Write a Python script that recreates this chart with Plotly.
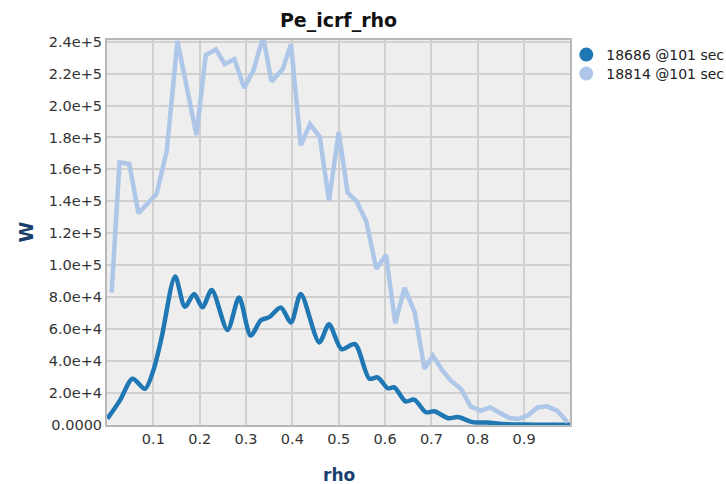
import plotly.graph_objects as go

# Series 18814 @101 sec (light)
rho_18814 = [0.010, 0.027, 0.048, 0.068, 0.107, 0.129, 0.152, 0.193, 0.213, 0.235,
             0.254, 0.275, 0.296, 0.316, 0.337, 0.355, 0.379, 0.397, 0.418, 0.438,
             0.459, 0.479, 0.500, 0.519, 0.539, 0.560, 0.581, 0.602, 0.622, 0.642,
             0.664, 0.685, 0.703, 0.724, 0.742, 0.764, 0.785, 0.807, 0.827, 0.847,
             0.868, 0.888, 0.908, 0.929, 0.949, 0.971, 0.994]
pe_18814 = [82.9e3, 164.4e3, 163.4e3, 132.5e3, 144.6e3, 171.7e3, 240.4e3, 181.5e3, 231.5e3, 235.2e3,
            226.0e3, 229.0e3, 211.0e3, 222.0e3, 243.0e3, 215.0e3, 222.7e3, 238.4e3, 175.0e3, 188.4e3,
            180.5e3, 140.4e3, 183.6e3, 145.5e3, 139.8e3, 127.0e3, 97.8e3, 106.5e3, 63.8e3, 85.8e3,
            70.5e3, 35.2e3, 43.4e3, 34.0e3, 27.7e3, 22.5e3, 11.5e3, 9.0e3, 11.0e3, 7.9e3,
            4.4e3, 3.8e3, 5.9e3, 11.0e3, 11.7e3, 9.0e3, 1.7e3]

# Series 18686 @101 sec (dark)
rho_18686 = [0.001, 0.028, 0.055, 0.082, 0.100, 0.118, 0.147, 0.168, 0.188, 0.206,
             0.226, 0.260, 0.285, 0.310, 0.332, 0.350, 0.375, 0.397, 0.418, 0.458,
             0.479, 0.506, 0.535, 0.566, 0.584, 0.606, 0.620, 0.644, 0.663, 0.688,
             0.706, 0.737, 0.757, 0.789, 0.820, 0.855, 0.900, 0.950, 0.999]
pe_18686 = [4.0e3, 15.4e3, 29.0e3, 22.7e3, 34.2e3, 55.0e3, 93.0e3, 74.0e3, 82.0e3, 73.7e3,
            84.5e3, 59.5e3, 79.8e3, 56.0e3, 65.5e3, 67.5e3, 73.6e3, 64.2e3, 82.0e3, 51.7e3,
            63.1e3, 47.5e3, 50.6e3, 29.0e3, 29.8e3, 23.0e3, 23.6e3, 14.8e3, 15.9e3, 8.0e3,
            8.6e3, 4.2e3, 5.0e3, 1.8e3, 1.5e3, 0.6e3, 0.3e3, 0.2e3, 0.2e3]

series_names = ["18686 @101 sec", "18814 @101 sec"]
series_colors = ["#1f77b4", "#aec7e8"]

y_tick_vals = [0, 2e4, 4e4, 6e4, 8e4, 1e5, 1.2e5, 1.4e5, 1.6e5, 1.8e5, 2.0e5, 2.2e5, 2.4e5]
y_tick_text = ["0.0000", "2.0e+4", "4.0e+4", "6.0e+4", "8.0e+4", "1.0e+5", "1.2e+5",
               "1.4e+5", "1.6e+5", "1.8e+5", "2.0e+5", "2.2e+5", "2.4e+5"]
x_tick_vals = [0.1, 0.2, 0.3, 0.4, 0.5, 0.6, 0.7, 0.8, 0.9]
x_tick_text = ["0.1", "0.2", "0.3", "0.4", "0.5", "0.6", "0.7", "0.8", "0.9"]

fig = go.Figure()
fig.add_trace(go.Scatter(x=rho_18686, y=pe_18686, mode="lines", showlegend=False,
                         line=dict(color=series_colors[0], width=4.5, shape="spline", smoothing=0.8)))
fig.add_trace(go.Scatter(x=rho_18814, y=pe_18814, mode="lines", showlegend=False,
                         line=dict(color=series_colors[1], width=4.5)))
legend_ids = ["legend", "legend2"]
for name, col, lg in zip(series_names, series_colors, legend_ids):
    fig.add_trace(go.Scatter(x=[None], y=[None], mode="markers", name=name, legend=lg,
                             marker=dict(color=col, size=14, symbol="circle")))

axis_common = dict(showgrid=True, gridcolor="#d0d0d0", gridwidth=1.5, zeroline=False,
                   showline=True, linecolor="#b8b8b8", linewidth=2, mirror=True,
                   ticks="", tickfont=dict(family="DejaVu Sans", size=14.5, color="#333333"))

legend_common = dict(x=0.992, xanchor="left", yanchor="middle", bgcolor="rgba(0,0,0,0)",
                     font=dict(family="DejaVu Sans", size=14, color="#222222"),
                     itemwidth=30, borderwidth=0)

fig.update_layout(
    width=726, height=484,
    margin=dict(l=107, r=156, t=40, b=59, autoexpand=False),
    paper_bgcolor="white", plot_bgcolor="#eeeeee",
    title=dict(text="<b>Pe_icrf_rho</b>", x=(107 + 570) / 2 / 726, xanchor="center",
               y=1 - 20 / 484, yanchor="middle",
               font=dict(family="DejaVu Sans", size=19, color="#111111")),
    xaxis=dict(range=[0, 0.999], tickvals=x_tick_vals, ticktext=x_tick_text, **axis_common),
    yaxis=dict(range=[0, 2.41e5], tickvals=y_tick_vals, ticktext=y_tick_text, **axis_common),
    legend=dict(y=(425 - 55) / 385, **legend_common),
    legend2=dict(y=(425 - 74) / 385, **legend_common),
    showlegend=True,
    annotations=[
        dict(text="<b>W</b>", xref="paper", yref="paper", x=(25 - 107) / 463, y=0.5,
             showarrow=False, textangle=-90, xanchor="center", yanchor="middle",
             font=dict(family="DejaVu Sans", size=19, color="#1a3e6e")),
        dict(text="<b>rho</b>", xref="paper", yref="paper", x=0.5, y=-(475 - 425) / 385,
             showarrow=False, xanchor="center", yanchor="middle",
             font=dict(family="DejaVu Sans", size=17, color="#1a3e6e")),
    ],
)

fig.write_html("out.html", config={"displayModeBar": False},
               post_script="document.body.style.margin='0px';")
